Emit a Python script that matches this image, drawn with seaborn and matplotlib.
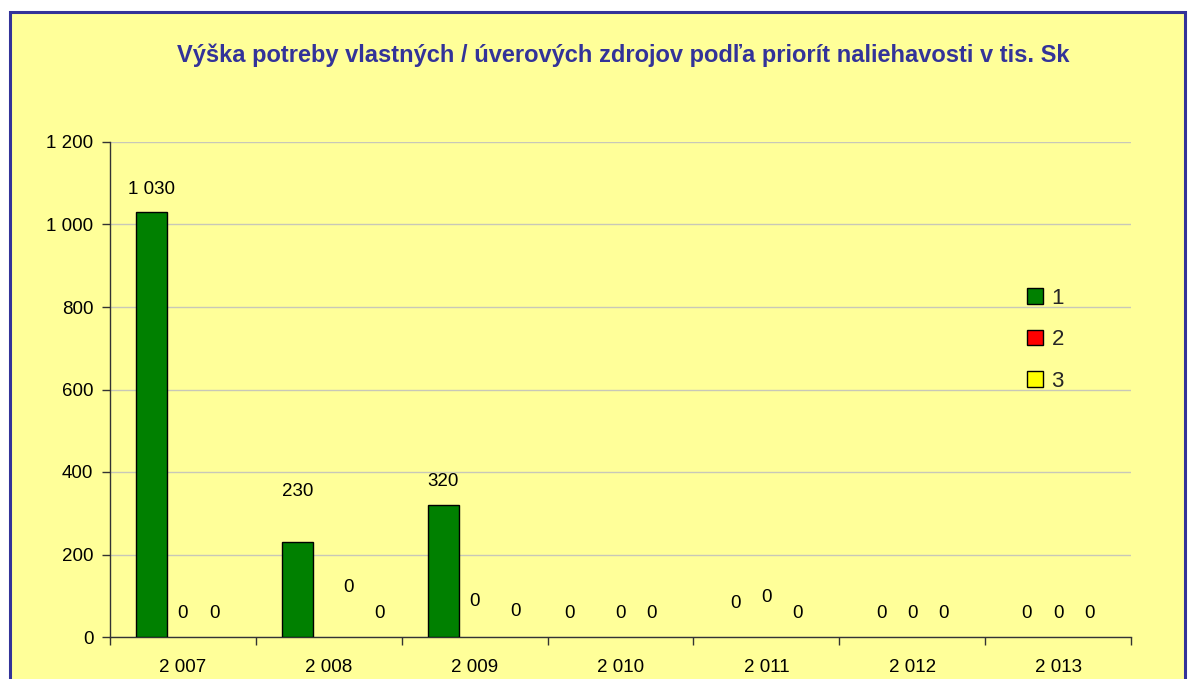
import matplotlib
matplotlib.use("Agg")
import matplotlib.pyplot as plt
from matplotlib.patches import Rectangle
import seaborn as sns
import pandas as pd
import numpy as np

# ---- data ----
years = ["2 007", "2 008", "2 009", "2 010", "2 011", "2 012", "2 013"]
priority_names = ["1", "2", "3"]
p1 = [1030, 230, 320, 0, 0, 0, 0]
p2 = [0, 0, 0, 0, 0, 0, 0]
p3 = [0, 0, 0, 0, 0, 0, 0]
title = "Výška potreby vlastných / úverových zdrojov podľa priorít naliehavosti v tis. Sk"
y_ticks = [0, 200, 400, 600, 800, 1000, 1200]

colors = ["#008000", "#FF0000", "#FFFF00"]
# manual label displacements (pixels: dx, extra dy upwards) as in the original chart
label_shift = {
    (0, 1): (0, 28), (1, 1): (20, 27), (2, 1): (20, 1),
    (1, 2): (0, 12), (2, 2): (10, 3),
    (0, 3): (-20, 0),
    (0, 4): (0, 10), (1, 4): (0, 16),
}

df = pd.DataFrame({
    "rok": years * 3,
    "priorita": [priority_names[0]] * 7 + [priority_names[1]] * 7 + [priority_names[2]] * 7,
    "hodnota": p1 + p2 + p3,
})

sns.set_theme(style="white")
plt.rcParams["font.family"] = ["Liberation Sans", "DejaVu Sans"]

W, H = 1188, 679
fig = plt.figure(figsize=(W / 100, H / 100), dpi=100)
fig.patch.set_facecolor("white")

# outer chart-area frame
frame = Rectangle((10 / W, -0.02), (1185 - 10) / W, (H - 12) / H + 0.02,
                  transform=fig.transFigure, facecolor="#FFFF99",
                  edgecolor="#333399", linewidth=2.2, zorder=-5)
fig.patches.append(frame)

ax = fig.add_axes([110 / W, 1 - 637 / H, (1131 - 110) / W, (637 - 142) / H])
ax.set_zorder(2)
ax.set_facecolor("none")

sns.barplot(data=df, x="rok", y="hodnota", hue="priorita", order=years,
            hue_order=priority_names, palette=colors, saturation=1,
            width=0.64, edgecolor="black", linewidth=1, ax=ax, zorder=3,
            errorbar=None)

FS = 13.5
ax.set_ylim(0, 1200)
ax.set_xlim(-0.5, len(years) - 0.5)
ax.set_yticks(y_ticks)
ax.set_yticklabels([f"{v:,}".replace(",", " ") for v in y_ticks], fontsize=FS, color="black")
ax.yaxis.grid(True, color="#C8C8B8", linewidth=1, zorder=0)
ax.set_axisbelow(True)

# x ticks at category boundaries, labels at centers
ax.set_xticks(np.arange(-0.5, len(years), 1.0))
ax.set_xticklabels([])
ax.set_xticks(np.arange(len(years)), minor=True)
ax.set_xticklabels(years, minor=True, fontsize=FS, color="black")
ax.tick_params(axis="x", which="major", length=6, width=1, color="#333333", direction="out", bottom=True)
ax.tick_params(axis="x", which="minor", length=0, pad=16)
ax.tick_params(axis="y", length=6, width=1, color="#333333", direction="out", left=True, pad=6)

for s in ["top", "right"]:
    ax.spines[s].set_visible(False)
for s in ["left", "bottom"]:
    ax.spines[s].set_color("#333333")
    ax.spines[s].set_linewidth(1)

ax.set_xlabel("")
ax.set_ylabel("")

# data labels; zero-height bars are not outlined
for si, cont in enumerate(ax.containers):
    for ci, bar in enumerate(cont):
        val = bar.get_height()
        if val == 0:
            bar.set_linewidth(0)
        dx, dy = label_shift.get((si, ci), (0, 0))
        ax.annotate(f"{int(round(val)):,}".replace(",", " "),
                    (bar.get_x() + bar.get_width() / 2, val),
                    xytext=(dx * 0.72, (23 + dy) * 0.72), textcoords="offset points",
                    ha="center", va="center", fontsize=FS, color="black")

# legend
handles, labels = ax.get_legend_handles_labels()
for h in handles:
    h.set_linewidth(1)
    h.set_edgecolor("black")
leg = ax.legend(handles, labels, loc="upper left", bbox_to_anchor=(1027 / W, 1 - 288 / H),
                bbox_transform=fig.transFigure, frameon=False, fontsize=16,
                handlelength=0.7, handleheight=0.7, handletextpad=0.4,
                labelspacing=0.92, borderpad=0, borderaxespad=0)

fig.text(623 / W, 1 - 55 / H, title, ha="center", va="center", fontsize=17,
         fontweight="bold", color="#333399")

fig.savefig("out.png", dpi=100)
